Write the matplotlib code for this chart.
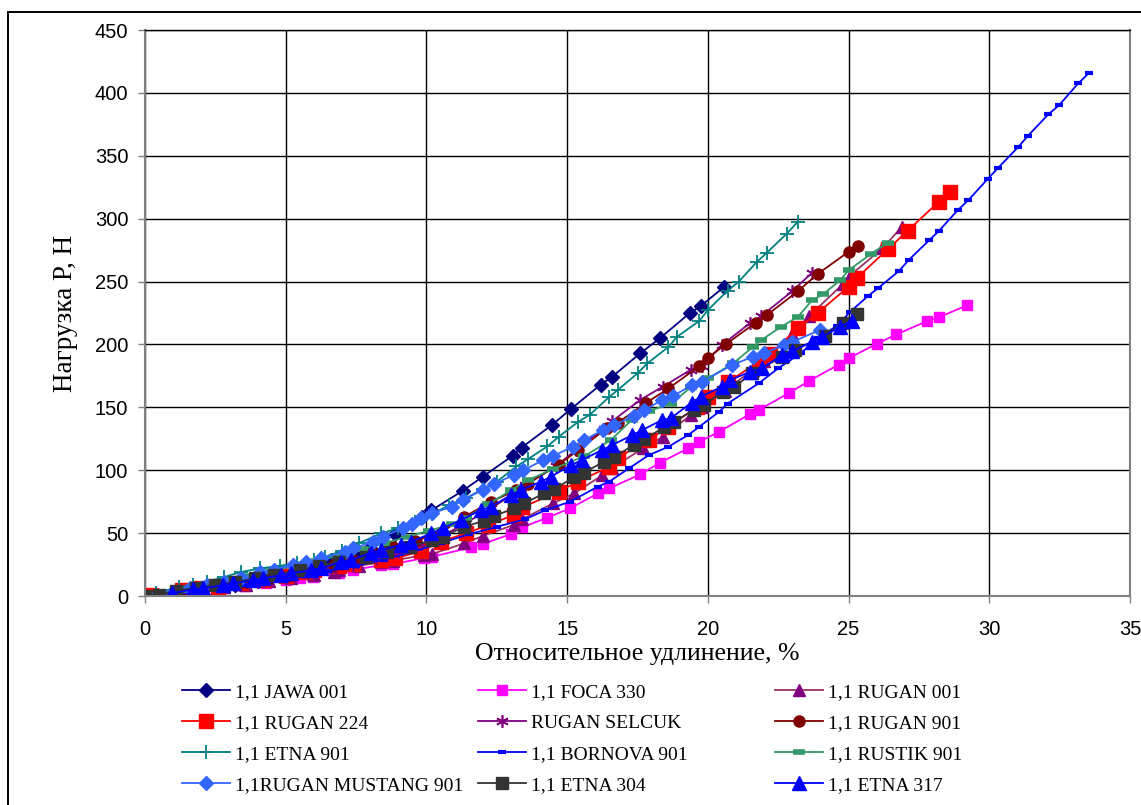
import matplotlib
matplotlib.use("Agg")
import matplotlib.pyplot as plt
from matplotlib.lines import Line2D

# ---------------- data ----------------
jawa_x = [0.3, 1.0, 1.7, 2.5, 3.2, 4.0, 4.8, 5.6, 6.2, 6.6, 7.5, 8.0, 8.87, 9.85, 10.17, 11.29, 12.0,
          13.06, 13.38, 14.46, 15.13, 16.19, 16.58, 17.6, 18.3, 19.36, 19.74, 20.57]
jawa_y = [0, 2, 4, 7, 9, 12, 16, 22, 25, 28.6, 33, 38, 49, 63, 68, 83.7, 94.8,
          111.5, 118, 136, 148.6, 168, 174, 193, 205, 225, 230.5, 245.6]

foca_x = [0, 0.3, 1.2, 2.0, 2.8, 3.5, 4.3, 5.0, 5.5, 5.97, 6.9, 7.4, 8.4, 8.8, 9.9, 10.2, 11.6, 12.0,
          13.0, 13.4, 14.3, 15.1, 16.1, 16.5, 17.6, 18.3, 19.3, 19.7, 20.4, 21.5, 21.8, 22.9, 23.6,
          24.65, 25.0, 26.0, 26.7, 27.8, 28.2, 29.2]
foca_y = [0, 0, 2, 4, 6, 8, 10, 12.5, 14, 15.5, 18.5, 20.7, 24.6, 25.4, 30, 31.2, 38.7, 41.3,
          49.3, 54.6, 62.3, 69.7, 81.6, 85.6, 96.7, 106, 117.4, 122.7, 130.6, 144.7, 147.8, 161.6, 171,
          184, 189, 200.5, 208, 218.6, 221.5, 231]

rugan001_x = [0, 0.3, 1.2, 2.0, 2.8, 3.6, 4.4, 5.2, 6.0, 6.7, 6.9, 7.6, 8.4, 8.8, 9.9, 10.2, 11.35, 12.0,
              13.1, 13.4, 14.5, 15.25, 16.25, 16.6, 17.7, 18.4, 19.4, 19.8, 20.6, 21.6, 22.0, 23.0,
              23.6, 24.8, 25.1, 26.2, 26.9]
rugan001_y = [0, 0, 2, 5, 7, 9, 12, 14, 17, 19, 20.7, 24, 27, 28, 32.6, 33.4, 41.9, 47.7,
              56.5, 61, 73.7, 81.6, 96, 102, 117.4, 126.6, 144, 150.5, 163, 180, 187, 208,
              222.6, 248, 255.7, 276.4, 293.6]

rugan224_x = [0, 0.2, 1.3, 2.0, 2.6, 3.4, 4.2, 5.0, 5.7, 6.0, 6.9, 7.4, 8.4, 8.9, 9.8, 10.5, 11.4, 12.2,
              13.1, 13.4, 14.7, 15.4, 16.5, 16.8, 17.9, 18.6, 19.6, 20.0, 20.7, 21.8, 22.2, 23.2,
              23.9, 25.0, 25.3, 26.4, 27.1, 28.2, 28.6]
rugan224_y = [0, 1, 4.8, 6, 7, 10, 13, 16, 19, 20.7, 23.5, 25.4, 28.6, 30, 35.5, 43.2, 49.8, 56.4,
              64.4, 70.5, 83, 91, 102.8, 110, 124, 134.6, 150, 158.4, 170, 186, 192.4, 212.8,
              225, 245.9, 253, 275.8, 290.4, 313.4, 321.4]

selcuk_x = [0, 0.2, 1.0, 1.8, 2.6, 3.4, 4.2, 5.0, 5.8, 6.6, 7.4, 8.2, 9.0, 9.8, 10.5, 11.4, 12.3, 13.1,
            13.5, 14.6, 15.3, 16.3, 16.6, 17.6, 18.4, 19.4, 19.8, 20.5, 21.5, 21.9, 23.0, 23.7]
selcuk_y = [0, 0, 2, 4, 7, 9, 12, 14, 17, 21, 25, 30, 35, 41, 47, 58, 70, 81,
            88, 103, 116, 133, 139, 156, 166.4, 180, 183, 199.5, 217, 222.6, 242.4, 257]

rugan901_x = [0, 0.3, 1.2, 2.0, 2.8, 3.6, 4.4, 5.2, 6.0, 6.7, 7.4, 8.1, 8.8, 9.6, 10.5, 11.35, 12.3,
              13.2, 13.6, 14.7, 15.4, 16.4, 16.8, 17.8, 18.6, 19.7, 20.0, 20.65, 21.7, 22.1, 23.2,
              23.9, 25.0, 25.33]
rugan901_y = [0, 0, 3, 6, 9, 11, 14, 17, 21, 25, 29, 34, 39, 44, 50, 63, 75,
              84.3, 89.3, 104.5, 116, 133.3, 137.8, 153.4, 165, 182.8, 189.4, 200.3, 217.3, 223.4, 242.4,
              256, 273.7, 278.5]

etna901_x = [0, 0.4, 1.2, 1.7, 2.2, 2.8, 3.4, 4.1, 4.8, 5.4, 6.0, 6.4, 7.0, 7.6, 8.4, 9.0, 9.6, 10.2,
             10.8, 11.4, 12.0, 12.5, 13.2, 13.6, 14.3, 14.7, 15.4, 15.8, 16.5, 16.8, 17.5, 17.85,
             18.6, 18.9, 19.7, 20.0, 20.7, 21.1, 21.75, 22.1, 22.8, 23.2]
etna901_y = [0, 2.6, 7, 9, 11.4, 15, 19, 22, 24, 26.5, 28.6, 31.2, 36, 42, 49.8, 54, 59, 65,
             72.3, 77.7, 85, 90.9, 103, 108.7, 119, 126.6, 138.6, 144, 158.4, 163.8, 177, 185,
             198, 206, 218.8, 227.3, 242.7, 250, 265.8, 273, 288, 297.6]

bornova_x = [0, 0.5, 1.5, 2.5, 3.5, 4.5, 5.5, 6.5, 7.5, 8.5, 9.5, 10.5, 11.5, 12.5, 13.5, 14.2, 15.1,
             16.1, 16.5, 17.2, 17.9, 18.6, 19.3, 19.7, 20.4, 20.7, 21.8, 22.5, 23.3, 23.9, 24.6,
             25.06, 25.7, 26.04, 26.8, 27.13, 27.87, 28.2, 28.88, 29.26, 29.94, 30.32, 31.03, 31.38,
             32.1, 32.47, 33.16, 33.55]
bornova_y = [0, 1, 3, 6, 9, 12, 16, 20, 24, 29, 35, 42, 49, 55, 61, 68, 75,
             87, 91, 101.5, 112, 118.7, 128, 134.6, 146.5, 153, 169, 181, 193, 205, 215,
             226, 238.7, 244.6, 258.6, 267, 283, 290, 306.8, 314.8, 331.5, 340.5, 357, 366,
             383, 390, 407.5, 416]

rustik_x = [0, 0.5, 1.3, 2.1, 2.9, 3.7, 4.5, 5.3, 6.1, 6.9, 7.7, 8.5, 9.3, 10.1, 10.9, 11.4, 12.2,
            13.0, 13.6, 14.5, 15.6, 16.55, 17.3, 17.9, 18.7, 19.4, 20.0, 20.9, 21.6, 21.9, 22.6,
            23.2, 23.7, 24.1, 24.7, 25.0, 25.8, 26.4]
rustik_y = [0, 1, 5, 9, 13, 16, 20, 24, 28, 32, 37, 42, 47, 52, 57, 62, 73,
            84, 92, 101, 111, 124, 140, 147, 153, 166, 173, 185, 198, 203.5, 214,
            222, 235, 240, 251, 259, 272, 281]

mustang_x = [0.35, 1.0, 1.6, 2.2, 2.8, 3.4, 4.1, 4.6, 5.26, 5.73, 6.27, 7.1, 7.4, 8.1, 8.45, 9.16, 9.5,
             9.8, 10.2, 10.9, 11.3, 12.0, 12.4, 13.1, 13.44, 14.15, 14.5, 15.2, 15.6, 16.28, 16.67,
             17.38, 17.73, 18.38, 18.76, 19.44, 19.8, 20.86, 21.6, 22.0, 22.7, 23.0, 24.0]
mustang_y = [0, 3, 6, 8.5, 11, 14, 19, 21, 24.6, 27.3, 30, 35.2, 37.9, 43.2, 47.2, 53.8, 57.5,
             61.8, 65.7, 71, 76.5, 84.3, 89, 96.2, 100, 108, 111.3, 118.7, 124, 132, 136,
             143, 147.5, 156, 159, 167.7, 170.4, 183.6, 190.3, 193, 199.5, 202, 211.7]

etna304_x = [0, 0.5, 1.1, 1.8, 2.5, 3.2, 3.9, 4.6, 5.5, 6.2, 6.9, 7.86, 8.6, 9.4, 10.2, 10.58, 11.35,
             12.06, 12.4, 13.12, 13.48, 14.18, 14.54, 15.25, 15.6, 16.3, 16.67, 17.38, 17.73, 18.44,
             18.8, 19.5, 19.86, 20.53, 20.92, 21.57, 22.63, 23.1, 24.15, 24.8, 25.3]
etna304_y = [0, 1, 4.2, 6.5, 9, 11, 14, 17, 20.7, 24, 27, 31.2, 35, 39.2, 44.5, 47.2, 55,
             60, 63.6, 69.7, 73.7, 81.6, 85, 94.4, 98, 106.8, 110.3, 120.4, 124.6, 134,
             138.6, 147.8, 151.8, 162.4, 166, 177, 190.3, 195.5, 207, 217.3, 224]

etna317_x = [0.95, 1.7, 2.07, 2.78, 3.13, 3.84, 4.2, 4.85, 5.2, 5.9, 6.27, 6.97, 7.33, 8.04, 8.4, 9.1,
             9.46, 10.17, 10.58, 11.23, 11.94, 12.3, 13.0, 13.36, 14.07, 14.42, 15.13, 15.52, 16.23,
             16.6, 17.32, 17.67, 18.38, 18.68, 19.42, 19.74, 20.5, 20.8, 21.5, 21.93, 22.63, 23.0,
             23.7, 24.05, 24.7, 25.12]
etna317_y = [2.1, 5.3, 6, 8.7, 10, 12.7, 14, 16.7, 18, 20.7, 22, 27.3, 28.6, 34.4, 36.6, 40.5,
             43.2, 49.8, 53.8, 60.4, 68.4, 71, 80.3, 84.3, 90.9, 94.8, 104, 108, 116,
             120, 128, 132, 140, 141.3, 153.7, 158.4, 166.4, 171.7, 178.3, 181, 191.6, 194.5,
             202.3, 206, 214, 219]

# ---------------- styles ----------------
series = [
    ("1,1 JAWA 001", jawa_x, jawa_y, dict(color="#000080", marker="D", ms=7)),
    ("1,1 FOCA 330", foca_x, foca_y, dict(color="#FF00FF", marker="s", ms=7)),
    ("1,1 RUGAN 001", rugan001_x, rugan001_y,
     dict(color="#993366", marker="^", ms=8, mfc="#800080", mec="#800080")),
    ("1,1 RUGAN 224", rugan224_x, rugan224_y, dict(color="#FF0000", marker="s", ms=10)),
    ("RUGAN SELCUK", selcuk_x, selcuk_y, dict(color="#800080", marker=(6, 2, 0), ms=9, mew=1.2)),
    ("1,1 RUGAN 901", rugan901_x, rugan901_y, dict(color="#800000", marker="o", ms=8)),
    ("1,1 ETNA 901", etna901_x, etna901_y, dict(color="#008080", marker="+", ms=10, mew=1.3)),
    ("1,1 BORNOVA 901", bornova_x, bornova_y, dict(color="#0000FF", marker="_", ms=6, mew=3)),
    ("1,1 RUSTIK 901", rustik_x, rustik_y, dict(color="#339966", marker="_", ms=8, mew=4)),
    ("1,1RUGAN MUSTANG 901", mustang_x, mustang_y, dict(color="#3366FF", marker="D", ms=7)),
    ("1,1 ETNA 304", etna304_x, etna304_y, dict(color="#333333", marker="s", ms=8)),
    ("1,1 ETNA 317", etna317_x, etna317_y, dict(color="#0000FF", marker="^", ms=10)),
]

fig = plt.figure(figsize=(11.41, 8.05), dpi=100)
ax = fig.add_axes([145 / 1141, 1 - 596 / 805, (1130 - 145) / 1141, (596 - 30) / 805])

handles = []
for name, xs, ys, st in series:
    ln, = ax.plot(xs, ys, lw=1.3, label=name, **st)
    handles.append(ln)

ax.set_xlim(0, 35)
ax.set_ylim(0, 450)
ax.set_xticks(range(0, 36, 5))
ax.set_yticks(range(0, 451, 50))
ax.grid(True, color="#000000", lw=1.0)
ax.set_axisbelow(True)
for sp in ax.spines.values():
    sp.set_color("#808080")
    sp.set_linewidth(1.5)
ax.spines["top"].set_color("#000000")
ax.spines["top"].set_linewidth(1.0)

ax.tick_params(axis="both", direction="out", length=5, width=1, color="#808080",
               labelsize=14.5)
ax.tick_params(axis="y", pad=7)
ax.tick_params(axis="x", pad=12)
for lab in ax.get_xticklabels() + ax.get_yticklabels():
    lab.set_fontfamily("Liberation Sans")

ax.set_xlabel("Относительное удлинение, %", fontfamily="Liberation Serif", fontsize=18.5, labelpad=3)
ax.set_ylabel("Нагрузка P, Н", fontfamily="Liberation Serif", fontsize=19.5, labelpad=12)

# legend: three columns, filled row by row
col_x = [182, 478, 775]
for c in range(3):
    hs = [handles[r * 3 + c] for r in range(4)]
    fig.legend(handles=hs, labels=[h.get_label() for h in hs],
               loc="upper left", bbox_to_anchor=(col_x[c] / 1141, 1 - 683 / 805),
               frameon=False, borderpad=0, borderaxespad=0, handlelength=2.45,
               handletextpad=0.3, labelspacing=0.7,
               prop={"family": "Liberation Serif", "size": 14})

# outer chart frame (left and top edges visible)
fig.add_artist(Line2D([8 / 1141, 8 / 1141], [0, 1 - 12 / 805], transform=fig.transFigure,
                      color="black", lw=1.4))
fig.add_artist(Line2D([8 / 1141, 1], [1 - 12 / 805, 1 - 12 / 805], transform=fig.transFigure,
                      color="black", lw=1.4))

fig.savefig("out.png", dpi=100)
